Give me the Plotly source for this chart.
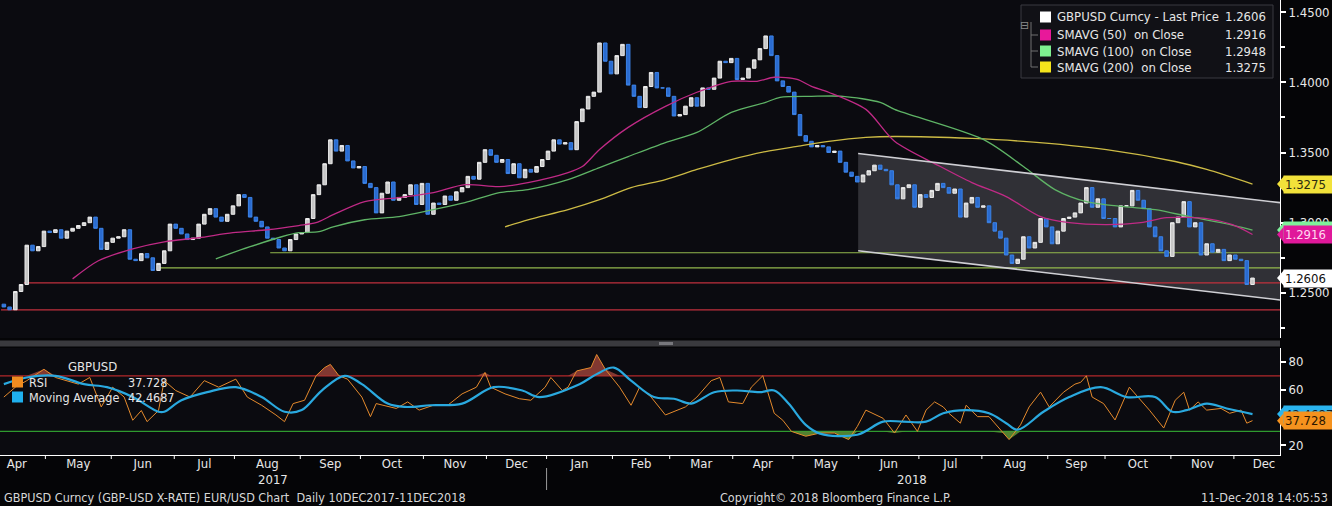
import numpy as np
import pandas as pd
import plotly.graph_objects as go

# ---------------- data ----------------
start_date = "2017-04-07"
end_date = "2018-12-11"
first_open = 1.2420

months = ["2017-04", "2017-05", "2017-06", "2017-07", "2017-08", "2017-09", "2017-10",
          "2017-11", "2017-12", "2018-01", "2018-02", "2018-03", "2018-04", "2018-05",
          "2018-06", "2018-07", "2018-08", "2018-09", "2018-10", "2018-11", "2018-12"]

# closes, one bar every second trading day, grouped by month
close_by_month = [
    [1.2400, 1.2380, 1.2510, 1.2560, 1.2840, 1.2800, 1.2830, 1.2940],
    [1.2930, 1.2950, 1.2890, 1.2940, 1.2960, 1.2980, 1.3000, 1.3040, 1.2960, 1.2810, 1.2860],
    [1.2890, 1.2900, 1.2950, 1.2740, 1.2730, 1.2780, 1.2750, 1.2660, 1.2710, 1.2800, 1.2990],
    [1.2960, 1.2920, 1.2880, 1.2890, 1.2990, 1.3060, 1.3100, 1.3040, 1.3010, 1.3060, 1.3120],
    [1.3200, 1.3180, 1.3040, 1.3010, 1.2970, 1.2890, 1.2880, 1.2820, 1.2800, 1.2880, 1.2920],
    [1.2930, 1.3030, 1.3200, 1.3270, 1.3420, 1.3590, 1.3510, 1.3550, 1.3440, 1.3390, 1.3400],
    [1.3280, 1.3250, 1.3070, 1.3210, 1.3290, 1.3160, 1.3180, 1.3200, 1.3270, 1.3130, 1.3280],
    [1.3060, 1.3140, 1.3130, 1.3190, 1.3160, 1.3220, 1.3250, 1.3330, 1.3310, 1.3430, 1.3520],
    [1.3480, 1.3430, 1.3450, 1.3350, 1.3420, 1.3320, 1.3380, 1.3360, 1.3400, 1.3450, 1.3510],
    [1.3590, 1.3560, 1.3570, 1.3520, 1.3720, 1.3810, 1.3900, 1.3930, 1.4280, 1.4150, 1.4060, 1.4190],
    [1.4270, 1.3980, 1.3900, 1.3820, 1.3970, 1.4070, 1.3960, 1.3960, 1.3900, 1.3760],
    [1.3770, 1.3830, 1.3890, 1.3830, 1.3960, 1.3950, 1.4030, 1.4150, 1.4140, 1.4170, 1.4020],
    [1.4030, 1.4100, 1.4160, 1.4240, 1.4330, 1.4190, 1.4010, 1.3970, 1.3930, 1.3770],
    [1.3620, 1.3580, 1.3540, 1.3550, 1.3540, 1.3500, 1.3510, 1.3430, 1.3360, 1.3330, 1.3290],
    [1.3340, 1.3370, 1.3410, 1.3380, 1.3370, 1.3270, 1.3170, 1.3250, 1.3270, 1.3110, 1.3200],
    [1.3180, 1.3230, 1.3280, 1.3250, 1.3210, 1.3240, 1.3040, 1.3140, 1.3180, 1.3110, 1.3120],
    [1.3000, 1.2940, 1.2890, 1.2770, 1.2710, 1.2740, 1.2900, 1.2820, 1.2860, 1.3030, 1.2970],
    [1.2850, 1.2940, 1.3030, 1.3040, 1.3070, 1.3140, 1.3250, 1.3110, 1.3170, 1.3030],
    [1.3030, 1.2970, 1.3120, 1.3120, 1.3230, 1.3160, 1.3100, 1.2970, 1.2900, 1.2800, 1.2760],
    [1.3000, 1.3040, 1.3150, 1.2970, 1.3000, 1.2770, 1.2850, 1.2790, 1.2810, 1.2730, 1.2770],
    [1.2740, 1.2730, 1.2560, 1.2606],
]

sma50_dates = ["2017-05-12", "2017-05-25", "2017-06-12", "2017-06-27", "2017-07-13", "2017-07-31",
               "2017-08-16", "2017-08-31", "2017-09-08", "2017-09-18", "2017-10-03", "2017-10-19",
               "2017-11-06", "2017-11-21", "2017-12-07", "2017-12-21", "2018-01-10", "2018-01-17",
               "2018-01-25", "2018-02-08", "2018-02-27", "2018-03-14", "2018-03-30", "2018-04-12",
               "2018-04-20", "2018-05-02", "2018-05-09", "2018-05-17", "2018-06-05", "2018-06-19",
               "2018-07-11", "2018-07-26", "2018-08-13", "2018-08-29", "2018-09-12", "2018-10-01",
               "2018-10-17", "2018-10-30", "2018-11-19", "2018-11-30", "2018-12-11"]
sma50 = [1.2600, 1.2729, 1.2814, 1.2864, 1.2893, 1.2929, 1.2950, 1.2980, 1.3000, 1.3057, 1.3150,
         1.3179, 1.3214, 1.3271, 1.3257, 1.3286, 1.3357, 1.3400, 1.3521, 1.3679, 1.3829, 1.3929,
         1.4007, 1.4007, 1.4036, 1.4021, 1.3971, 1.3929, 1.3807, 1.3580, 1.3400, 1.3286, 1.3186,
         1.3043, 1.3000, 1.2986, 1.3000, 1.3036, 1.3029, 1.2986, 1.2916]

sma100_dates = ["2017-07-21", "2017-08-08", "2017-08-23", "2017-08-31", "2017-09-11", "2017-09-18",
                "2017-10-03", "2017-10-19", "2017-11-06", "2017-11-21", "2017-12-07", "2017-12-21",
                "2018-01-10", "2018-01-25", "2018-02-08", "2018-02-27", "2018-03-14", "2018-03-30",
                "2018-04-17", "2018-04-24", "2018-05-09", "2018-05-24", "2018-06-12", "2018-06-19",
                "2018-08-01", "2018-08-21", "2018-09-05", "2018-09-20", "2018-10-09", "2018-10-24",
                "2018-11-09", "2018-11-26", "2018-12-11"]
sma100 = [1.2743, 1.2829, 1.2900, 1.2929, 1.2936, 1.2971, 1.3021, 1.3043, 1.3093, 1.3143, 1.3214,
          1.3236, 1.3307, 1.3393, 1.3471, 1.3571, 1.3643, 1.3786, 1.3857, 1.3893, 1.3900, 1.3900,
          1.3857, 1.3807, 1.3593, 1.3400, 1.3236, 1.3150, 1.3114, 1.3093, 1.3043, 1.3000, 1.2948]

sma200_dates = ["2017-12-11", "2017-12-21", "2018-01-10", "2018-01-25", "2018-02-09", "2018-02-27",
                "2018-03-14", "2018-03-30", "2018-04-17", "2018-05-02", "2018-05-17", "2018-06-05",
                "2018-06-19", "2018-07-26", "2018-08-21", "2018-10-01", "2018-11-02", "2018-11-19",
                "2018-12-11"]
sma200 = [1.2971, 1.3021, 1.3093, 1.3164, 1.3250, 1.3307, 1.3379, 1.3450, 1.3507, 1.3543, 1.3579,
          1.3607, 1.3614, 1.3600, 1.3579, 1.3521, 1.3436, 1.3379, 1.3275]

rsi_dates = ["2017-04-10", "2017-04-14", "2017-04-20", "2017-04-28", "2017-05-04", "2017-05-10",
             "2017-05-16", "2017-05-22", "2017-05-26", "2017-06-01", "2017-06-07", "2017-06-12",
             "2017-06-15", "2017-06-19", "2017-06-23", "2017-06-27", "2017-07-03", "2017-07-10",
             "2017-07-17", "2017-07-24", "2017-08-01", "2017-08-07", "2017-08-14", "2017-08-21",
             "2017-08-24", "2017-08-29", "2017-09-04", "2017-09-08", "2017-09-13", "2017-09-15",
             "2017-09-20", "2017-09-25", "2017-10-02", "2017-10-05", "2017-10-09", "2017-10-18",
             "2017-10-24", "2017-10-30", "2017-11-06", "2017-11-13", "2017-11-20", "2017-11-27",
             "2017-11-30", "2017-12-04", "2017-12-11", "2017-12-18", "2017-12-22", "2017-12-29",
             "2018-01-02", "2018-01-08", "2018-01-10", "2018-01-15", "2018-01-22", "2018-01-24",
             "2018-01-29", "2018-02-05", "2018-02-09", "2018-02-14", "2018-02-20", "2018-02-27",
             "2018-03-08", "2018-03-14", "2018-03-21", "2018-03-26", "2018-03-29", "2018-04-05",
             "2018-04-10", "2018-04-16", "2018-04-20", "2018-04-25", "2018-04-30", "2018-05-07",
             "2018-05-14", "2018-05-21", "2018-05-28", "2018-05-31", "2018-06-05", "2018-06-13",
             "2018-06-19", "2018-06-25", "2018-06-29", "2018-07-04", "2018-07-09", "2018-07-12",
             "2018-07-16", "2018-07-20", "2018-07-24", "2018-07-30", "2018-08-03", "2018-08-10",
             "2018-08-14", "2018-08-20", "2018-08-23", "2018-08-29", "2018-09-03", "2018-09-10",
             "2018-09-14", "2018-09-18", "2018-09-20", "2018-09-24", "2018-09-28", "2018-10-04",
             "2018-10-11", "2018-10-16", "2018-10-22", "2018-10-29", "2018-11-02", "2018-11-07",
             "2018-11-09", "2018-11-14", "2018-11-19", "2018-11-26", "2018-11-29", "2018-12-05",
             "2018-12-07", "2018-12-11"]
rsi = [54.7, 61.8, 66.5, 74.7, 68.8, 66.5, 64.0, 68.8, 47.6, 61.8, 54.7, 38.0, 45.0, 37.0, 45.0,
       66.5, 59.4, 54.7, 66.5, 61.8, 67.6, 54.7, 48.8, 41.8, 37.0, 50.0, 52.4, 70.0, 75.9, 78.2,
       70.0, 67.6, 54.7, 40.6, 50.0, 46.5, 51.2, 45.3, 48.8, 48.8, 57.0, 61.8, 72.4, 61.8, 57.0,
       53.5, 52.4, 61.8, 68.8, 59.4, 61.8, 73.5, 75.9, 85.3, 74.7, 61.8, 48.8, 61.8, 54.7, 41.8,
       47.6, 54.7, 66.5, 68.8, 51.2, 50.0, 61.8, 70.0, 43.0, 38.0, 30.0, 26.5, 28.8, 28.8, 24.1,
       33.5, 45.3, 39.4, 28.8, 41.8, 30.0, 45.3, 51.2, 47.6, 43.0, 35.9, 48.8, 40.6, 40.6, 28.8,
       24.1, 34.7, 47.6, 58.2, 47.6, 58.2, 64.0, 65.3, 70.0, 54.7, 50.0, 38.2, 61.8, 54.7, 45.3,
       32.4, 52.4, 58.2, 45.3, 51.2, 45.3, 46.5, 43.0, 45.3, 35.9, 37.728]

rsi_ma_dates = ["2017-04-10", "2017-04-20", "2017-05-04", "2017-05-18", "2017-05-30", "2017-06-12",
                "2017-06-23", "2017-06-27", "2017-07-05", "2017-07-18", "2017-08-01", "2017-08-14",
                "2017-08-24", "2017-09-01", "2017-09-12", "2017-09-22", "2017-10-02", "2017-10-13",
                "2017-10-23", "2017-11-03", "2017-11-20", "2017-12-05", "2017-12-19", "2017-12-27",
                "2018-01-16", "2018-01-24", "2018-02-01", "2018-02-09", "2018-02-21", "2018-03-02",
                "2018-03-12", "2018-03-22", "2018-04-03", "2018-04-13", "2018-04-20", "2018-04-27",
                "2018-05-07", "2018-05-14", "2018-05-31", "2018-06-13", "2018-06-22", "2018-07-04",
                "2018-07-12", "2018-07-24", "2018-08-03", "2018-08-13", "2018-08-17", "2018-08-30",
                "2018-09-12", "2018-09-27", "2018-10-10", "2018-10-24", "2018-11-01", "2018-11-08",
                "2018-11-19", "2018-11-28", "2018-12-11"]
rsi_ma = [64.0, 68.8, 70.0, 64.0, 61.8, 54.7, 44.1, 44.1, 52.4, 58.2, 61.8, 54.7, 44.1, 45.3, 59.4,
          70.0, 64.0, 50.0, 47.6, 48.8, 50.0, 61.8, 59.4, 54.7, 64.0, 71.2, 75.9, 66.5, 54.7, 53.5,
          50.0, 58.2, 59.4, 58.2, 59.4, 50.0, 34.7, 28.4, 27.6, 37.0, 37.0, 37.0, 43.0, 45.3, 43.0,
          35.9, 31.2, 44.1, 54.7, 61.8, 54.7, 54.7, 44.1, 45.3, 50.0, 46.5, 42.4687]

# horizontal levels drawn on the price panel: (start date, price)
red_levels = [("2017-04-19", 1.2571), ("2017-04-07", 1.2379)]
green_levels = [("2017-06-23", 1.2679), ("2017-08-17", 1.2786)]
# trend channel: start date, upper/lower price at start and at right edge
channel_start = "2018-06-01"
channel_upper = [1.3493, 1.3143]
channel_lower = [1.2800, 1.2450]
axis_end_date = "2018-12-24"

legend_rows = [("GBPUSD Curncy - Last Price", "1.2606", "#ffffff"),
               ("SMAVG (50)  on Close", "1.2916", "#e8189a"),
               ("SMAVG (100)  on Close", "1.2948", "#7ef090"),
               ("SMAVG (200)  on Close", "1.3275", "#f4e41c")]

price_ticks = [1.25, 1.30, 1.35, 1.40, 1.45]
rsi_ticks = [20, 40, 60, 80]
axis_months = pd.period_range("2017-04", "2018-12", freq="M")

# ---------------- trading-day axis ----------------
grid = pd.bdate_range("2017-01-02", "2019-03-29")


def xi(d):
    return float(grid.searchsorted(pd.Timestamp(d).normalize()))


closes = [v for vals in close_by_month for v in vals]
bdays = pd.bdate_range(start_date, end_date)
bar_dates = bdays[::-1][::2][:len(closes)][::-1]
bar_x = [xi(d) for d in bar_dates]
opens = [first_open] + closes[:-1]
highs = [max(o, c) for o, c in zip(opens, closes)]
lows = [min(o, c) for o, c in zip(opens, closes)]

x_range = [xi(start_date) - 0.35, xi(axis_end_date) + 0.6]
month_bounds = [xi(m.start_time) - 0.5 for m in axis_months]
month_centres = [(xi(m.start_time) + xi(m.end_time.normalize() + pd.Timedelta(days=1)) - 1) / 2
                 for m in axis_months]
month_names = [m.strftime("%b") for m in axis_months]

FONT = "Liberation Sans Narrow, DejaVu Sans Condensed, Roboto Condensed, Roboto, sans-serif"
PH = 455.0  # plot area height px
PW = 1280.0


def py(px):  # paper y from pixel row
    return (PH - px) / PH


def pxx(px):  # paper x from pixel col
    return px / PW


fig = go.Figure()

fig.add_trace(go.Candlestick(
    x=bar_x, open=opens, high=highs, low=lows, close=closes,
    increasing=dict(fillcolor="#c6c6c6", line=dict(color="#ececec", width=1)),
    decreasing=dict(fillcolor="#2a6bd0", line=dict(color="#3b82e6", width=1)),
    xaxis="x", yaxis="y", showlegend=False, hoverinfo="skip"))

for d, v, c in [(sma200_dates, sma200, "#cdbb45"), (sma100_dates, sma100, "#5fb466"),
                (sma50_dates, sma50, "#c02a86")]:
    fig.add_trace(go.Scatter(x=[xi(t) for t in d], y=v, mode="lines",
                             line=dict(color=c, width=1.3, shape="spline", smoothing=0.8),
                             xaxis="x", yaxis="y", showlegend=False, hoverinfo="skip"))

# RSI fills
rx = [xi(t) for t in rsi_dates]
fig.add_trace(go.Scatter(x=rx, y=[70] * len(rsi), mode="lines", line=dict(width=0),
                         xaxis="x2", yaxis="y2", showlegend=False, hoverinfo="skip"))
fig.add_trace(go.Scatter(x=rx, y=[max(v, 70) for v in rsi], mode="lines", line=dict(width=0),
                         fill="tonexty", fillcolor="rgba(170,72,60,0.75)",
                         xaxis="x2", yaxis="y2", showlegend=False, hoverinfo="skip"))
fig.add_trace(go.Scatter(x=rx, y=[30] * len(rsi), mode="lines", line=dict(width=0),
                         xaxis="x2", yaxis="y2", showlegend=False, hoverinfo="skip"))
fig.add_trace(go.Scatter(x=rx, y=[min(v, 30) for v in rsi], mode="lines", line=dict(width=0),
                         fill="tonexty", fillcolor="rgba(95,150,55,0.85)",
                         xaxis="x2", yaxis="y2", showlegend=False, hoverinfo="skip"))
fig.add_trace(go.Scatter(x=rx, y=rsi, mode="lines", line=dict(color="#e58a2c", width=1),
                         xaxis="x2", yaxis="y2", showlegend=False, hoverinfo="skip"))
fig.add_trace(go.Scatter(x=[xi(t) for t in rsi_ma_dates], y=rsi_ma,
                         mode="lines", line=dict(color="#2aa9df", width=2.2, shape="spline"),
                         xaxis="x2", yaxis="y2", showlegend=False, hoverinfo="skip"))

shapes = []
cx0 = xi(channel_start) - 0.7
# channel
shapes.append(dict(type="path", xref="x", yref="y", layer="below",
                   path=f"M {cx0} {channel_upper[0]} L {x_range[1]} {channel_upper[1]} "
                        f"L {x_range[1]} {channel_lower[1]} L {cx0} {channel_lower[0]} Z",
                   fillcolor="rgba(215,215,225,0.18)", line=dict(width=0)))
for a, b in [(channel_upper[0], channel_upper[1]), (channel_lower[0], channel_lower[1])]:
    shapes.append(dict(type="line", xref="x", yref="y", x0=cx0, x1=x_range[1], y0=a, y1=b,
                       line=dict(color="#cfcfd4", width=1.6), layer="above"))
for d, v in red_levels:
    shapes.append(dict(type="line", xref="x", yref="y", x0=max(xi(d), x_range[0]), x1=x_range[1],
                       y0=v, y1=v, line=dict(color="#c0303c", width=1.2), layer="below"))
for d, v in green_levels:
    shapes.append(dict(type="line", xref="x", yref="y", x0=xi(d), x1=x_range[1], y0=v, y1=v,
                       line=dict(color="#93b84c", width=1.2), layer="below"))
# RSI levels
shapes.append(dict(type="line", xref="paper", yref="y2", x0=0, x1=1, y0=70, y1=70,
                   line=dict(color="#b3282a", width=1.2), layer="below"))
shapes.append(dict(type="line", xref="paper", yref="y2", x0=0, x1=1, y0=30, y1=30,
                   line=dict(color="#2f9a2f", width=1.4), layer="below"))
# month boundary ticks
for bx in month_bounds:
    if x_range[0] < bx < x_range[1]:
        shapes.append(dict(type="line", xref="x2", yref="paper", x0=bx, x1=bx, y0=0, y1=py(459),
                           line=dict(color="#ffffff", width=1)))
# separator between panels
shapes.append(dict(type="rect", xref="paper", yref="paper", x0=0, x1=1, y0=py(346.5), y1=py(340.5),
                   fillcolor="#3a3a3e", line=dict(width=0)))
shapes.append(dict(type="rect", xref="paper", yref="paper", x0=pxx(659), x1=pxx(673), y0=py(345),
                   y1=py(342), fillcolor="#77777c", line=dict(width=0)))
# year divider
ydiv = month_bounds[month_names.index("Jan")]
shapes.append(dict(type="line", xref="x2", yref="paper", x0=ydiv, x1=ydiv,
                   y0=py(468), y1=py(490), line=dict(color="#9a9a9a", width=1)))
# legend box
shapes.append(dict(type="rect", xref="paper", yref="paper", x0=pxx(1021), x1=pxx(1273), y0=py(78),
                   y1=py(5), fillcolor="#111116", line=dict(color="#3a3a40", width=1)))
shapes.append(dict(type="line", xref="paper", yref="paper", x0=pxx(1031), x1=pxx(1031),
                   y0=py(22), y1=py(67), line=dict(color="#707070", width=1)))
for r in [35, 51, 67]:
    shapes.append(dict(type="line", xref="paper", yref="paper", x0=pxx(1031), x1=pxx(1038),
                       y0=py(r), y1=py(r), line=dict(color="#707070", width=1)))

annotations = []
ann_font = dict(family=FONT, size=13, color="#e6e6e6")
annotations.append(dict(xref="paper", yref="paper", x=pxx(1031), y=py(17), text="⊟",
                        showarrow=False, font=dict(family="DejaVu Sans", size=11, color="#8a8a8a")))
for i, (label, val, col) in enumerate(legend_rows):
    ry = [17, 35, 51, 67][i]
    shapes.append(dict(type="rect", xref="paper", yref="paper", x0=pxx(1040), x1=pxx(1051),
                       y0=py(ry + 5.5), y1=py(ry - 5.5), fillcolor=col, line=dict(width=0)))
    annotations.append(dict(xref="paper", yref="paper", x=pxx(1055), y=py(ry), xanchor="left",
                            yanchor="middle", text=label.replace(" ", "\u00a0"), showarrow=False,
                            font=ann_font))
    annotations.append(dict(xref="paper", yref="paper", x=pxx(1268), y=py(ry), xanchor="right",
                            yanchor="middle", text=val, showarrow=False, font=ann_font))

# RSI legend
annotations.append(dict(xref="paper", yref="paper", x=pxx(66), y=py(366), xanchor="left",
                        yanchor="middle", text="GBPUSD", showarrow=False, font=ann_font))
for ry, col, lab, val in [(382, "#f08c20", "RSI", "37.728"),
                          (397, "#1fb0ee", "Moving\u00a0Average", "42.4687")]:
    shapes.append(dict(type="rect", xref="paper", yref="paper", x0=pxx(12), x1=pxx(23),
                       y0=py(ry + 5.5), y1=py(ry - 5.5), fillcolor=col, line=dict(width=0)))
    annotations.append(dict(xref="paper", yref="paper", x=pxx(27), y=py(ry), xanchor="left",
                            yanchor="middle", text=lab, showarrow=False,
                            font=dict(family=FONT, size=12.5, color="#e6e6e6")))
    annotations.append(dict(xref="paper", yref="paper", x=pxx(126), y=py(ry), xanchor="left",
                            yanchor="middle", text=val, showarrow=False,
                            font=dict(family=FONT, size=12.5, color="#e6e6e6")))

# right-axis value flags
flag_specs = [("y", 1.2948, "1.2948", "#7ef09a", "#101010", 0.0057),
              ("y", 1.2916, "1.2916", "#e0189a", "#ffd8f0", 0.0057),
              ("y", 1.3275, "1.3275", "#f2e23a", "#2a2a10", 0.0057),
              ("y", 1.2606, "1.2606", "#ffffff", "#101010", 0.0057),
              ("y2", 42.4687, "42.4687", "#2ab4ee", "#0a2030", 5.7),
              ("y2", 37.728, "37.728", "#f5921e", "#2a1600", 5.7)]
for yr, v, txt, bg, fc, dy in flag_specs:
    shapes.append(dict(type="path", xref="paper", yref=yr,
                       path=f"M {1 - 3 / PW} {v} L {1 + 4 / PW} {v + dy} L {1 + 4 / PW} {v - dy} Z",
                       fillcolor=bg, line=dict(width=0)))
    annotations.append(dict(xref="paper", yref=yr, x=1 + 3 / PW, y=v, xanchor="left", yanchor="middle",
                            text=txt, showarrow=False, bgcolor=bg, borderpad=1, width=47, align="left",
                            font=dict(family=FONT, size=13, color=fc)))

# year labels and footer
annotations.append(dict(xref="x2", yref="paper", x=xi("2017-08-18"), y=py(479), text="2017",
                        showarrow=False, font=ann_font, yanchor="middle"))
annotations.append(dict(xref="x2", yref="paper", x=xi("2018-06-27"), y=py(479), text="2018",
                        showarrow=False, font=ann_font, yanchor="middle"))
foot_font = dict(family=FONT, size=12.5, color="#d8d8d8")
annotations.append(dict(xref="paper", yref="paper", x=pxx(2), y=py(497), xanchor="left", yanchor="middle",
                        text="GBPUSD Curncy (GBP-USD X-RATE) EUR/USD Chart\u00a0\u00a0Daily 10DEC2017-11DEC2018",
                        showarrow=False, font=foot_font))
annotations.append(dict(xref="paper", yref="paper", x=pxx(835), y=py(497), xanchor="center",
                        yanchor="middle", text="Copyright© 2018 Bloomberg Finance L.P.",
                        showarrow=False, font=foot_font))
annotations.append(dict(xref="paper", yref="paper", x=pxx(1330), y=py(497), xanchor="right",
                        yanchor="middle", text="11-Dec-2018 14:05:53", showarrow=False, font=foot_font))

axis_font = dict(family=FONT, size=13, color="#e8e8e8")
fig.update_layout(
    width=1332, height=506,
    margin=dict(l=0, r=52, t=0, b=51),
    paper_bgcolor="#050507", plot_bgcolor="#0b0b10",
    showlegend=False, boxgap=0.12,
    xaxis=dict(domain=[0, 1], anchor="y", matches="x2", range=x_range, type="linear",
               showticklabels=False, showgrid=False, zeroline=False, ticks="",
               rangeslider=dict(visible=False)),
    yaxis=dict(domain=[py(338), 1], anchor="x", side="right", range=[1.2179, 1.4586],
               tickvals=price_ticks, ticktext=[f"{t:.4f}" for t in price_ticks],
               ticks="outside", ticklen=5, tickwidth=2, tickcolor="#ffffff",
               minor=dict(dtick=0.025, tick0=1.225, ticks="outside", ticklen=4, tickcolor="#ffffff"),
               showline=True, linecolor="#ffffff", linewidth=1, showgrid=False, zeroline=False,
               tickfont=axis_font),
    xaxis2=dict(domain=[0, 1], anchor="y2", range=x_range, type="linear",
                tickmode="array", tickvals=month_centres, ticktext=month_names,
                ticks="outside", ticklen=4, tickcolor="rgba(0,0,0,0)", showline=True,
                linecolor="#ffffff", ticklabelstandoff=-8,
                linewidth=1, showgrid=False, zeroline=False, tickfont=axis_font),
    yaxis2=dict(domain=[0, py(348)], anchor="x2", side="right", range=[13, 90],
                tickvals=rsi_ticks, ticks="outside", ticklen=5, tickwidth=2, tickcolor="#ffffff",
                showline=True, linecolor="#ffffff", linewidth=1, showgrid=False, zeroline=False,
                tickfont=axis_font),
    shapes=shapes, annotations=annotations,
)

fig.write_html("out.html", config={"displayModeBar": False},
               post_script="document.body.style.margin='0px';document.body.style.overflow='hidden';")
